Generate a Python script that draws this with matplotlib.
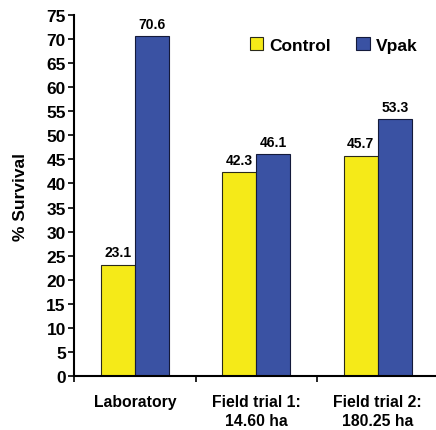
import matplotlib.pyplot as plt
import numpy as np

plt.rcParams['font.family'] = ['Liberation Sans', 'DejaVu Sans']
plt.rcParams['font.weight'] = 'bold'

categories = ["Laboratory", "Field trial 1:\n14.60 ha", "Field trial 2:\n180.25 ha"]
control = [23.1, 42.3, 45.7]
vpak = [70.6, 46.1, 53.3]

fig = plt.figure(figsize=(4.36, 4.31), dpi=100)
ax = fig.add_axes([0.170, 0.125, 0.830, 0.838])

x = np.arange(len(categories))
w = 0.28
b1 = ax.bar(x - w / 2, control, w, color='#F5EA18', edgecolor='#2a2a1a', linewidth=0.8, label='Control')
b2 = ax.bar(x + w / 2, vpak, w, color='#3A52A3', edgecolor='#141a3a', linewidth=0.8, label='Vpak')

for bars in (b1, b2):
    for r in bars:
        ax.annotate(f"{r.get_height():.1f}", (r.get_x() + r.get_width() / 2, r.get_height()),
                    xytext=(0, 4), textcoords='offset points', ha='center', va='bottom',
                    fontsize=10, fontweight='bold')

ax.set_xlim(-0.5, 2.48)
ax.set_ylim(0, 75)
ax.set_yticks(np.arange(0, 76, 5))
ax.tick_params(axis='y', labelsize=12.5, length=4, width=1.2, direction='out', pad=2)

ax.set_xticks([-0.5, 0.5, 1.5])
ax.set_xticklabels([])
ax.tick_params(axis='x', which='major', length=4, width=1.2)
ax.set_xticks(x, minor=True)
ax.set_xticklabels(categories, minor=True, fontsize=11.3, linespacing=1.3, va='top')
ax.tick_params(axis='x', which='minor', length=0, pad=13)

for s in ('top', 'right'):
    ax.spines[s].set_visible(False)
for s in ('left', 'bottom'):
    ax.spines[s].set_linewidth(1.5)

ax.set_ylabel("% Survival", fontsize=12.5, fontweight='bold', labelpad=13)

fig.legend(loc='center', bbox_to_anchor=(0.765, 0.893), ncol=2, frameon=False,
           fontsize=12.5, handlelength=0.75, handleheight=0.75, handletextpad=0.35,
           columnspacing=1.5)

fig.savefig("out.png", dpi=100)
